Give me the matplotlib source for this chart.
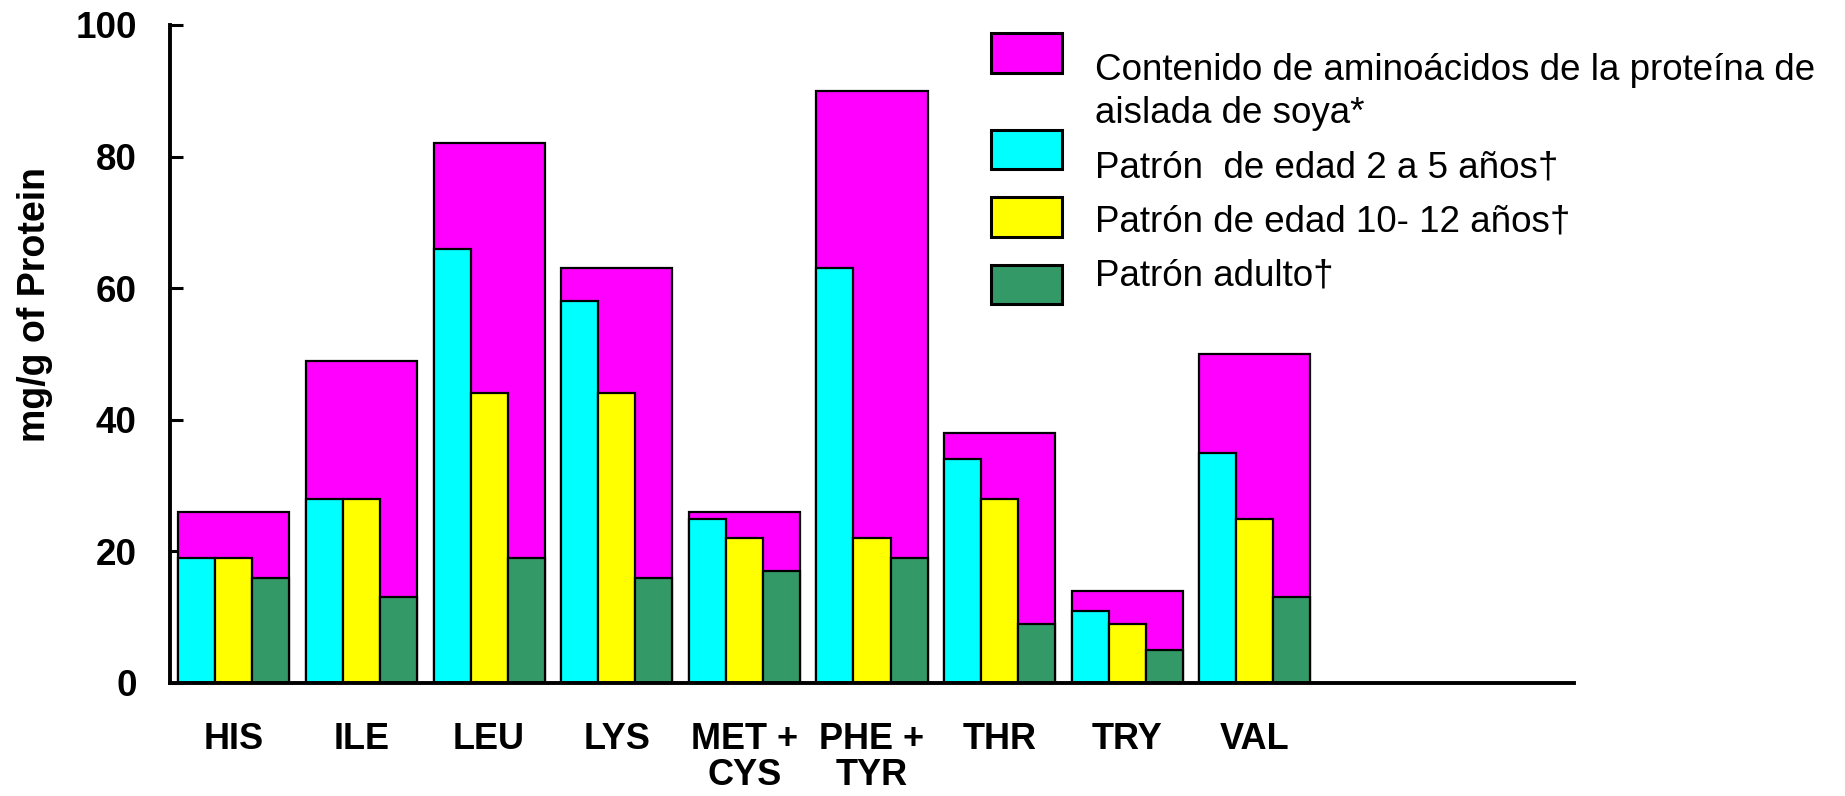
import numpy as np
import matplotlib
matplotlib.use("Agg")
import matplotlib.pyplot as plt
from matplotlib.patches import Rectangle

# amino acid content (mg/g of protein)
amino_acids = ["HIS", "ILE", "LEU", "LYS", "MET +\nCYS", "PHE +\nTYR", "THR", "TRY", "VAL"]
soy_isolate = [26, 49, 82, 63, 26, 90, 38, 14, 50]
age_2_5 = [19, 28, 66, 58, 25, 63, 34, 11, 35]
age_10_12 = [19, 28, 44, 44, 22, 22, 28, 9, 25]
adult = [16, 13, 19, 16, 17, 19, 9, 5, 13]

series_labels = [
    "Contenido de aminoácidos de la proteína de\naislada de soya*",
    "Patrón  de edad 2 a 5 años†",
    "Patrón de edad 10- 12 años†",
    "Patrón adulto†",
]
colors = ["#FF00FF", "#00FFFF", "#FFFF00", "#339966"]

plt.rcParams["font.family"] = ["Liberation Sans", "DejaVu Sans"]

fig = plt.figure(figsize=(18.45, 7.96), dpi=100)
W, H = 1845.0, 796.0
ax = fig.add_axes([170 / W, (H - 683) / H, (1574 - 170) / W, (683 - 25) / H])

x = np.arange(len(amino_acids))
wide = 0.87
narrow = wide / 3

ax.bar(x, soy_isolate, width=wide, color=colors[0], edgecolor="black", linewidth=1.6, zorder=2)
for k, vals in enumerate([age_2_5, age_10_12, adult]):
    ax.bar(x + (k - 1) * narrow, vals, width=narrow, color=colors[k + 1],
           edgecolor="black", linewidth=1.6, zorder=3)

ax.set_xlim(-0.5, 10.5)
ax.set_ylim(0, 100)
ax.set_yticks(range(0, 101, 20))
ax.set_xticks(x)
ax.set_xticklabels(amino_acids, fontsize=26, fontweight="bold", linespacing=1.05)
ax.tick_params(axis="x", length=0, pad=28)
ax.tick_params(axis="y", direction="in", length=9, width=2.2, pad=24, labelsize=26.5)
for lbl in ax.get_yticklabels():
    lbl.set_fontweight("bold")

for side in ["top", "right"]:
    ax.spines[side].set_visible(False)
ax.spines["left"].set_linewidth(2.8)
ax.spines["bottom"].set_linewidth(2.8)
ax.spines["left"].set_zorder(4)
ax.spines["bottom"].set_zorder(4)

ax.set_ylabel("mg/g of Protein", fontsize=27, fontweight="bold")
ax.yaxis.set_label_coords(-117 / (1574 - 170), 0.575)

# legend drawn by hand, boxes and text in figure pixels
boxes = [(33, 73), (130, 169), (197, 237), (265, 304)]
for (top, bottom), c in zip(boxes, colors):
    fig.add_artist(Rectangle((991 / W, (H - bottom) / H), 71 / W, (bottom - top) / H,
                             transform=fig.transFigure, facecolor=c,
                             edgecolor="black", linewidth=2.2))

baselines = [80, 177, 231, 285]
for base, text in zip(baselines, series_labels):
    lines = text.split("\n")
    for j, line in enumerate(lines):
        fig.text(1095 / W, (H - base - j * 43) / H, line, fontsize=26.5,
                 va="baseline", ha="left")

fig.savefig("out.png", dpi=100)
